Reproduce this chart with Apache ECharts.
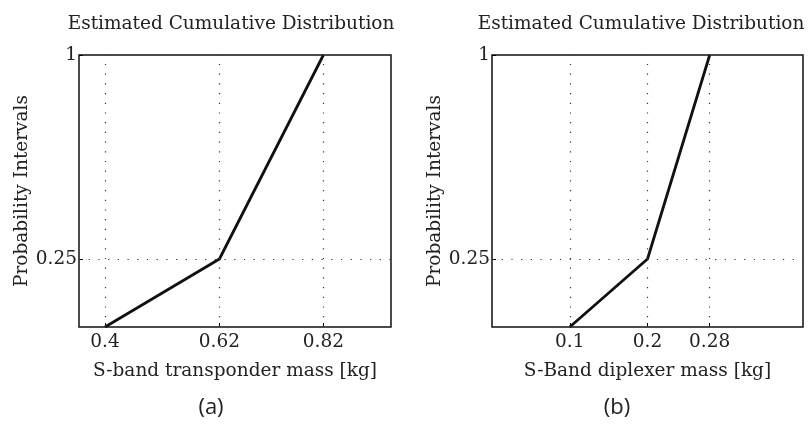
<!DOCTYPE html>
<html>
<head>
<meta charset="utf-8">
<script src="https://cdn.jsdelivr.net/npm/echarts@6/dist/echarts.min.js"></script>
<style>
  html, body { margin: 0; padding: 0; background: #fff; }
  #chart { width: 812px; height: 428px; }
</style>
</head>
<body>
<div id="chart"></div>
<script>
// panel (a): S-band transponder
var massA = [0.4, 0.62, 0.82]
var probA = [0, 0.25, 1]
var ticksA = [0.4, 0.62, 0.82]

// panel (b): S-band diplexer
var massB = [0.1, 0.2, 0.28]
var probB = [0, 0.25, 1]
var ticksB = [0.1, 0.2, 0.28]

var yTicks = [0.25, 1]

var FONT = 'DejaVu Serif'
var FS = 18.5
var chart = echarts.init(document.getElementById('chart'))

function pairs(xs, ys) {
    return xs.map(function (x, i) { return [x, ys[i]] })
}

function gridLines(xt) {
    var d = xt.map(function (v) { return { xAxis: v } })
    d.push({ yAxis: 0.25 })
    return {
        silent: true,
        symbol: 'none',
        label: { show: false },
        lineStyle: { color: '#333', width: 1.2, type: [1.2, 8.5] },
        data: d
    }
}

function xAxisOf(idx, min, max, ticks, name) {
    return {
        type: 'value', gridIndex: idx, min: min, max: max,
        name: name, nameLocation: 'middle', nameGap: 35,
        nameTextStyle: { fontFamily: FONT, fontSize: FS, color: '#222' },
        axisLine: { show: false },
        axisTick: { show: true, inside: true, length: 4, customValues: ticks, lineStyle: { color: '#000' } },
        axisLabel: { customValues: ticks, fontFamily: FONT, fontSize: FS, color: '#222', margin: 6,
            formatter: function (v) { return String(+v.toFixed(2)) } },
        splitLine: { show: false }
    }
}

function yAxisOf(idx) {
    return {
        type: 'value', gridIndex: idx, min: 0, max: 1,
        name: 'Probability Intervals', nameLocation: 'middle', nameGap: 47,
        nameTextStyle: { fontFamily: FONT, fontSize: FS, color: '#222' },
        axisLine: { show: false },
        axisTick: { show: true, inside: true, length: 4, customValues: yTicks, lineStyle: { color: '#000' } },
        axisLabel: { customValues: yTicks, fontFamily: FONT, fontSize: FS, color: '#222', margin: 2,
            formatter: function (v) { return String(+v.toFixed(2)) } },
        splitLine: { show: false }
    }
}

var titleStyle = { fontFamily: FONT, fontSize: FS, fontWeight: 'normal', color: '#222' }
var capStyle = { fontFamily: 'Open Sans', fontSize: 22, fontWeight: 'normal', color: '#222' }

var option = {
    backgroundColor: '#fff',
    animation: false,
    title: [
        { text: 'Estimated Cumulative Distribution', left: 226, top: 10, textAlign: 'center', textStyle: titleStyle },
        { text: 'Estimated Cumulative Distribution', left: 636, top: 10, textAlign: 'center', textStyle: titleStyle },
        { text: '(a)', left: 206, top: 392, textAlign: 'center', textStyle: capStyle },
        { text: '(b)', left: 612, top: 392, textAlign: 'center', textStyle: capStyle }
    ],
    grid: [
        { left: 79, right: 421, top: 55, bottom: 101, show: true, borderColor: '#111', borderWidth: 1.5 },
        { left: 492, right: 9, top: 55, bottom: 101, show: true, borderColor: '#111', borderWidth: 1.5 }
    ],
    xAxis: [
        xAxisOf(0, 0.35, 0.95, ticksA, 'S-band transponder mass [kg]'),
        xAxisOf(1, 0, 0.4, ticksB, 'S-Band diplexer mass [kg]')
    ],
    yAxis: [yAxisOf(0), yAxisOf(1)],
    series: [
        {
            type: 'line', xAxisIndex: 0, yAxisIndex: 0, data: pairs(massA, probA),
            symbol: 'none', lineStyle: { color: '#111', width: 2.8 },
            markLine: gridLines(ticksA)
        },
        {
            type: 'line', xAxisIndex: 1, yAxisIndex: 1, data: pairs(massB, probB),
            symbol: 'none', lineStyle: { color: '#111', width: 2.8 },
            markLine: gridLines(ticksB)
        }
    ]
}

chart.setOption(option)
</script>
</body>
</html>
